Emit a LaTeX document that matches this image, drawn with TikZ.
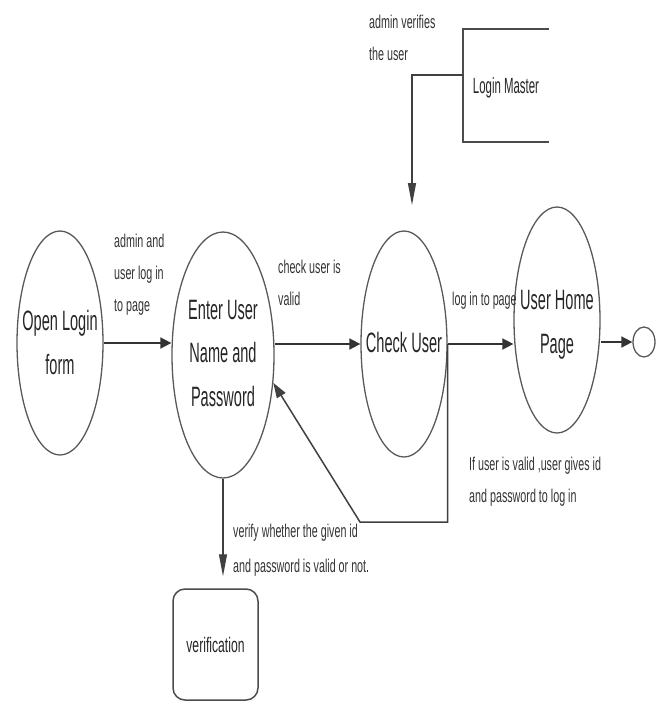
\documentclass[tikz,border=0pt]{standalone}
\usepackage{fontspec}
\setmainfont{Liberation Sans}
\newfontfamily\bigfont[FakeStretch=0.52]{Liberation Sans}
\newfontfamily\smallfont[FakeStretch=0.58]{Liberation Sans}
\usetikzlibrary{shapes.geometric,arrows.meta}
\begin{document}
\begin{tikzpicture}[x=1pt,y=-1pt,
  state/.style={draw=black!65, line width=1.3pt, ellipse, inner sep=0pt},
  bigtext/.style={font=\bigfont\fontsize{28}{43.5}\selectfont, align=center, anchor=base, text=black!85, inner sep=0pt},
  lbl/.style={font=\smallfont\fontsize{18.5}{32}\selectfont, align=left, anchor=base west, text=black!80, inner sep=0pt},
  flowh/.style={draw=black!80, line width=1.8pt, -{Triangle[length=11pt,width=11pt]}},
  flowv/.style={draw=black!75, line width=1.2pt, -{Triangle[length=22pt,width=8pt]}},
  flowd/.style={draw=black!75, line width=1.5pt, -{Triangle[length=15pt,width=10pt]}},
  plainline/.style={draw=black!70, line width=1.8pt},
]
\useasboundingbox (0,0) rectangle (656,702);

% states
\node[state, minimum width=86pt, minimum height=224pt] (open) at (60,343) {};
\node[state, minimum width=102pt, minimum height=246pt] (enter) at (223,355) {};
\node[state, minimum width=86pt, minimum height=226pt] (check) at (404,344) {};
\node[state, minimum width=86pt, minimum height=226pt] (home) at (557,320) {};
\node[state, minimum width=22pt, minimum height=30pt] (fin) at (644,342) {};

% (base anchor = baseline of the last line)
\node[bigtext] (topen) at (60,374) {Open Login\\form};
\node[bigtext] (tenter) at (223,406) {Enter User\\Name and\\Password};
\node[bigtext] (tcheck) at (404,352) {Check User};
\node[bigtext] (thome) at (557,353) {User Home\\Page};

% data store
\node[font=\bigfont\fontsize{22}{26}\selectfont, anchor=base, inner sep=0pt, text=black!85] (lm) at (506,93) {Login Master};
\coordinate (dsA) at (549,29);
\coordinate (dsB) at (463,29);
\coordinate (dsC) at (463,142);
\coordinate (dsD) at (549,142);
\draw[plainline] (dsA) -- (dsB) -- (dsC) -- (dsD);
\coordinate (dsOut) at (463,75);
\coordinate (bend) at (412,75);
\coordinate (ctip) at (412,205);
\draw[flowv] (dsOut) -- (bend) -- (ctip);

% verification
\node[draw=black!70, line width=1.5pt, rounded corners=12pt, minimum width=85pt, minimum height=111pt, inner sep=0pt,
  font=\smallfont\fontsize{21}{24}\selectfont, text=black!85] (ver) at (215.5,644.5) {verification};

% connectors
\draw[flowh] (open.east) -- (open.east -| enter.west);
\draw[flowh] (enter.east |- check.west) -- (check.west);
\draw[flowh] (check.east) -- (check.east -| home.west);
\draw[flowh] (home.east |- fin.west) -- (fin.west);
\draw[flowv, shorten >=12pt] (enter.south) -- (enter.south |- ver.north);
\coordinate (r2) at (360,522);
\draw[flowd] (check.east) -- (check.east |- r2) -- (r2) -- (enter.-29);

% labels (base anchor = baseline of the last line)
\node[lbl] (l1) at (369,60) {admin verifies\\the user};
\node[lbl] (l2) at (114,311) {admin and\\user log in\\to page};
\node[lbl] (l3) at (278,305) {check user is\\valid};
\node[lbl] (l4) at (452,305) {log in to page};
\node[lbl] (l5) at (469,502) {If user is valid ,user gives id\\and password to log in};
\node[lbl, font=\smallfont\fontsize{18.5}{35}\selectfont] (l6) at (233,572) {verify whether the given id\\and password is valid or not.};
\end{tikzpicture}
\end{document}
